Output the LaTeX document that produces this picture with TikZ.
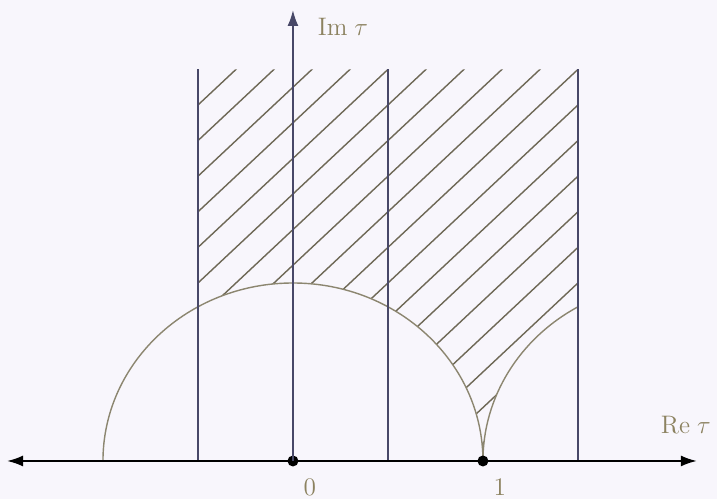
\documentclass[tikz,border=0pt]{standalone}
\usetikzlibrary{arrows.meta}
\definecolor{paper}{RGB}{248,246,252}
\definecolor{wallc}{RGB}{72,72,104}
\definecolor{arcc}{RGB}{140,134,112}
\definecolor{hatchc}{RGB}{110,104,86}
\definecolor{tagc}{RGB}{140,130,96}
\begin{document}
\begin{tikzpicture}[
    x=3.8cm, y=3.56cm,
    axis/.style={line width=1.1pt, black},
    wall/.style={draw=wallc, line width=1pt},
    bound/.style={draw=arcc, line width=0.8pt},
    hatch/.style={draw=hatchc, line width=0.8pt},
    dot/.style={circle, fill=black, inner sep=0pt, minimum size=2.2mm},
    tag/.style={text=tagc, font=\Large, inner sep=0pt}
]
\fill[paper] (-1.542,-0.2135) rectangle (2.232,2.590);
\useasboundingbox (-1.542,-0.2135) rectangle (2.232,2.590);
% fundamental strip, hatched
\begin{scope}
  \clip (-0.5,2.2) -- (-0.5,0.866) arc[start angle=120, end angle=0, radius=1]
        arc[start angle=180, end angle=120, radius=1] -- (1.5,2.2) -- cycle;
  \foreach \c in {-1.5,-1.3,...,2.8}
    \draw[hatch] (-0.6,-0.6+\c) -- (1.6,1.6+\c);
\end{scope}
% circles |tau|=1 and |tau-2|=1
\draw[bound] (1,0) arc[start angle=0, end angle=180, radius=1];
\draw[bound] (1,0) arc[start angle=180, end angle=120, radius=1];
% vertical lines
\foreach \x in {-0.5,0.5,1.5}
  \draw[wall] (\x,0) -- (\x,2.2);
% axes
\coordinate (west) at (-1.505,0);
\coordinate (east) at (2.126,0);
\coordinate (north) at (0,2.534);
\node[dot] (zero) at (0,0) {};
\node[dot] (one)  at (1,0) {};
\draw[axis, {Latex[length=3.2mm, width=2.2mm]}-{Latex[length=3.2mm, width=2.2mm]}] (west) -- (east);
\draw[axis, wallc, -{Latex[length=3.2mm, width=2.2mm]}] (zero.center) -- (north);
% labels
\node[tag] (retau)  at (2.068,0.202) {$\mathrm{Re}\;\tau$};
\node[tag] (imtau)  at (0.263,2.44)  {$\mathrm{Im}\;\tau$};
\node[tag] (zerotag) at (0.089,-0.146) {$0$};
\node[tag] (onetag)  at (1.089,-0.146) {$1$};
\end{tikzpicture}
\end{document}
